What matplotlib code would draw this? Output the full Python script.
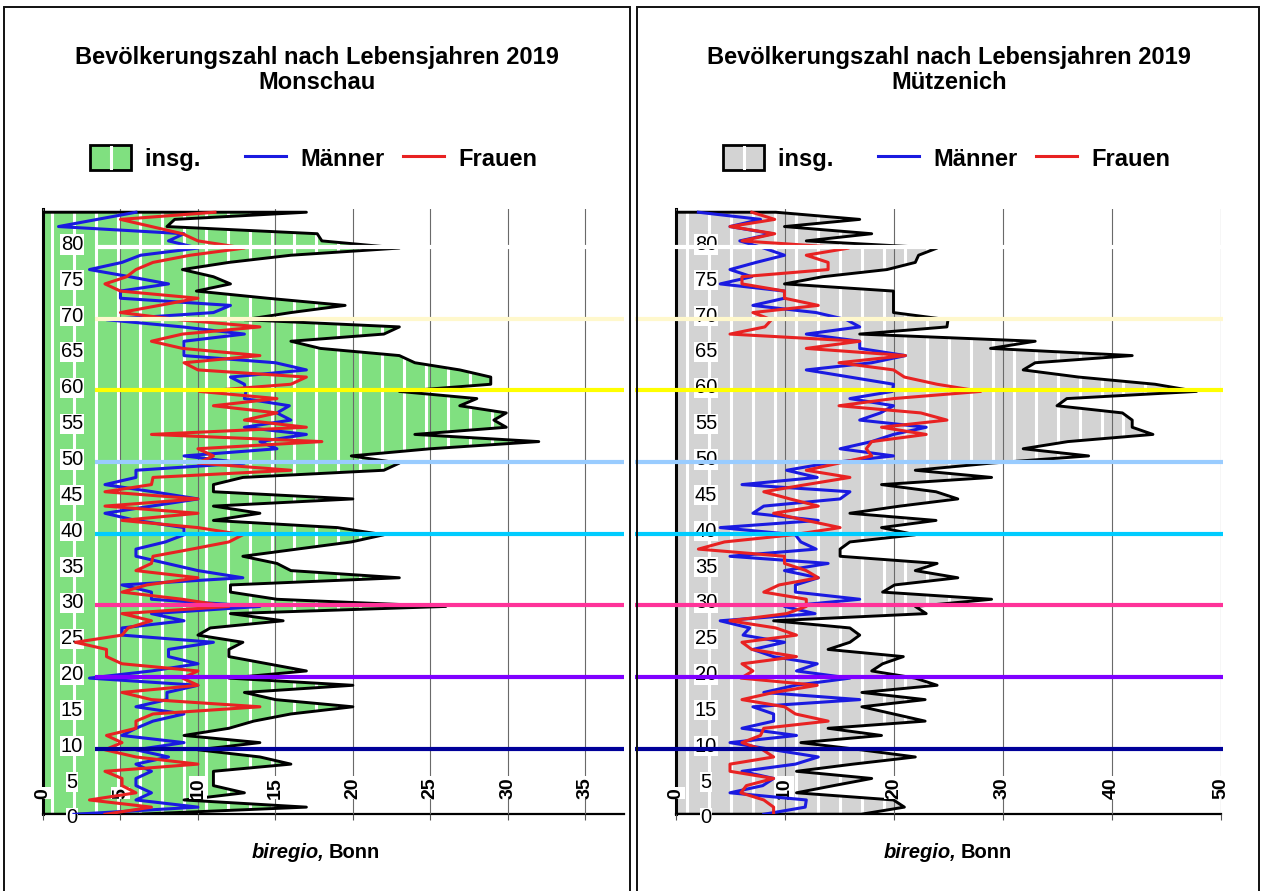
import numpy as np
import matplotlib
matplotlib.use("Agg")
import matplotlib.pyplot as plt
from matplotlib.patches import Rectangle
from matplotlib.lines import Line2D
from matplotlib.legend_handler import HandlerBase
from matplotlib.offsetbox import TextArea, HPacker, AnnotationBbox

plt.rcParams['font.family'] = ['Liberation Sans', 'DejaVu Sans']

# ---------------- data ----------------
ages = np.arange(0, 85)

monschau_total = [6, 17, 9.1, 13, 11, 11, 11, 16, 14, 10,
                  14, 9.1, 12, 13.6, 16, 20, 15, 13, 20, 12,
                  17, 14.5, 12, 12, 12.9, 10, 10.8, 15.5, 12.1, 26,
                  15.1, 12.1, 12.1, 23, 16, 15.1, 12.9, 16.4, 19.9, 22,
                  19, 11, 14, 11, 20, 11, 11, 12.9, 22, 23,
                  19.9, 25, 32, 24, 29.9, 29.1, 29.9, 26.9, 28, 23,
                  28.9, 28.9, 26.9, 24, 23, 17.9, 16, 22, 23, 13,
                  16, 19.5, 14.5, 9.9, 12.1, 11, 9, 12, 16, 23,
                  18, 17.7, 8, 8.5, 17]
monschau_men = [2, 10, 6, 7, 6, 6, 7, 6, 8.1, 6,
                9.1, 5.1, 6, 7.1, 9.1, 6, 8, 8, 10, 3,
                7, 10, 8.1, 8.1, 11, 5.1, 5.1, 9.1, 7, 14,
                7, 7, 5.1, 12.9, 10, 8, 6, 6, 7.9, 9.1,
                9.1, 6, 4, 7, 10, 7.1, 4, 6, 6, 13,
                9.1, 15.1, 14, 17, 13, 16, 15.1, 15.9, 13, 13.1,
                13, 12.1, 17, 15, 9.1, 9.1, 9.1, 13, 9, 4.1,
                11, 12.1, 5, 5, 8.1, 5.6, 3, 5.1, 6.3, 10,
                8.1, 9.1, 1, 3.5, 6]
monschau_women = [4, 7, 3, 6, 5.1, 5.1, 4, 10, 6, 4,
                  5.1, 4.1, 6, 6, 7.1, 14, 7, 5.1, 10, 9,
                  10, 5.1, 4.1, 4.1, 2.1, 5.1, 5.5, 7, 5.1, 12,
                  9, 5.1, 6.7, 10, 6, 7, 7.1, 9.6, 12, 12.9,
                  10, 5.1, 10, 4, 10, 4, 7, 7.1, 16, 10,
                  11, 10, 18, 7, 17, 13, 15.1, 11, 15.1, 10.1,
                  16, 17, 10, 9.1, 14, 9, 7, 9, 14, 8.8,
                  5, 7.5, 10, 5, 4, 5.4, 6, 7.1, 9.5, 13,
                  10, 9, 7, 5, 11.1]

muetzenich_total = [17, 21, 20, 11.1, 14.5, 18, 11.1, 16.3, 22, 17,
                    11.5, 18.9, 14, 22.9, 20, 17.1, 22.9, 17.1, 24, 22,
                    18, 19, 20.9, 14, 16, 16.9, 16, 9, 23, 22,
                    29, 19, 20.1, 25.9, 22, 24, 15.1, 15.1, 16, 22,
                    18.9, 23.9, 16, 20.6, 25.9, 23.9, 18.9, 29, 22, 29,
                    37.9, 31.9, 36, 43.8, 41.9, 41.9, 41, 35, 35.9, 47.8,
                    44, 37, 31.9, 33, 41.9, 28.9, 33, 16.9, 24.9, 25,
                    20, 20, 20, 20, 10, 13.5, 19.4, 22, 22.3, 24,
                    12, 18, 10, 16.9, 9.2]
muetzenich_men = [8.1, 11.9, 12, 5, 8, 9, 6.1, 11, 13.1, 9,
                  5, 11.1, 6.1, 9, 9, 7.1, 16.9, 8.1, 11, 16,
                  11.1, 13, 9, 7.1, 10, 6.2, 6.8, 4.1, 12.8, 10,
                  16.9, 11, 11, 13.1, 10, 14, 5, 12.9, 11.5, 11,
                  4.1, 13.1, 7.1, 8.1, 15.1, 16, 6.1, 13, 10.2, 14,
                  20, 15.1, 18, 20, 23, 16.9, 18.8, 20, 16, 19.9,
                  20, 16, 12, 18, 21.1, 16.9, 16.9, 12, 16.9, 15.7,
                  12.9, 7.1, 10, 10, 4.1, 7, 5, 7.4, 10, 8.1,
                  5.9, 8.9, 5, 7.8, 2.1]
muetzenich_women = [9, 9, 8.1, 6, 6.5, 9, 5, 5, 9, 8,
                    6.1, 7.8, 8.1, 14, 11, 10, 6.1, 9, 13, 6,
                    7.1, 6.1, 11.1, 7, 6.1, 11.1, 9.2, 5, 10.2, 12,
                    12, 8.1, 9.5, 13.1, 12, 10, 10, 2.1, 4.5, 10.8,
                    15.1, 12, 9, 13.1, 10.5, 8.1, 12, 16, 12, 15,
                    18, 17.5, 18, 23, 18.9, 24.9, 22.5, 15, 20, 28,
                    24, 21, 20, 15, 21.1, 12, 16.9, 5, 8.2, 8.8,
                    7.1, 13.1, 10, 10, 6.1, 6.1, 14, 14, 12, 15.9,
                    6.1, 9.1, 5, 9.1, 7]

title_text = "Bevölkerungszahl nach Lebensjahren 2019"
places = ["Monschau", "Mützenich"]
legend_labels = ["insg.", "Männer", "Frauen"]
age_ticks = list(range(0, 85, 5))
monschau_xticks = [0, 5, 10, 15, 20, 25, 30, 35]
muetzenich_xticks = [0, 10, 20, 30, 40, 50]
decade_levels = [10, 20, 30, 40, 50, 60, 70, 80]
decade_colors = ["#000099", "#7F00FF", "#FF3399", "#00CCFF",
                 "#99CCFF", "#FFFF00", "#FFF8CC", "#FFFFFF"]

# ---------------- styles ----------------
W, H = 1262, 891
BLUE = "#1A1AE0"
RED = "#E82222"
GREEN = "#80E080"
GREY = "#D3D3D3"

fig = plt.figure(figsize=(W / 100, H / 100), dpi=100)


class HandlerStriped(HandlerBase):
    def create_artists(self, legend, orig_handle, xdescent, ydescent,
                       width, height, fontsize, trans):
        r = Rectangle((-xdescent, -ydescent), width, height,
                      facecolor=orig_handle.get_facecolor(),
                      edgecolor="black", lw=2, transform=trans)
        l = Line2D([-xdescent + width / 2] * 2,
                   [-ydescent + 1.5, -ydescent + height - 1.5],
                   color="white", lw=2.2, transform=trans)
        return [r, l]


panels = [
    dict(total=monschau_total, men=monschau_men, women=monschau_women,
         place=places[0], xticks=monschau_xticks, xmax=37.5,
         rect=[43 / W, (H - 814.3) / H, 581 / W, 605.3 / H],
         fill=GREEN, stripe0=0.6, stripe_step=1.42,
         ylab_x=0.050, line_x0=0.0895, line_x1=1.0,
         cx=316.5 / W, legx=90 / W, border=(4, 630)),
    dict(total=muetzenich_total, men=muetzenich_men, women=muetzenich_women,
         place=places[1], xticks=muetzenich_xticks, xmax=50,
         rect=[675.5 / W, (H - 814.3) / H, 545 / W, 605.3 / H],
         fill=GREY, stripe0=1.1, stripe_step=2.0,
         ylab_x=0.056, line_x0=-0.0736, line_x1=1.005,
         cx=949 / W, legx=723 / W, border=(637, 1259)),
]

for p in panels:
    ax = fig.add_axes(p["rect"])
    ax.set_xlim(0, p["xmax"])
    ax.set_ylim(0, 84.45)
    total = np.asarray(p["total"], dtype=float)

    poly = ax.fill_betweenx(ages, 0, total, facecolor=p["fill"],
                            edgecolor="none", zorder=1)
    stripes = ax.vlines(np.arange(p["stripe0"], p["xmax"], p["stripe_step"]),
                        0, 85, colors="white", lw=2.2, zorder=1.5)
    stripes.set_clip_path(poly.get_paths()[0], ax.transData)

    ax.set_xticks(p["xticks"])
    ax.set_yticks([])
    ax.grid(axis="x", color="#6A6A6A", lw=0.8)
    ax.set_axisbelow(False)
    ax.tick_params(axis="x", direction="out", length=4, width=0.8,
                   color="#555555", labelbottom=False)
    for s in ("top", "right"):
        ax.spines[s].set_visible(False)
    ax.spines["left"].set_linewidth(2.2)
    ax.spines["bottom"].set_linewidth(1.6)

    ax.fill_betweenx(ages, 0, total, facecolor="none", edgecolor="black",
                     lw=2.1, zorder=3)
    ax.plot(p["men"], ages, color=BLUE, lw=2.2, zorder=4)
    ax.plot(p["women"], ages, color=RED, lw=2.2, zorder=4.1)

    ytrans = ax.get_yaxis_transform()
    for lev, col in zip(decade_levels, decade_colors):
        ax.plot([p["line_x0"], p["line_x1"]], [lev - 0.85, lev - 0.85],
                transform=ytrans, color=col, lw=3.0, zorder=5,
                clip_on=False, solid_capstyle="butt")

    for t in age_ticks:
        ax.text(p["ylab_x"], t - 0.5, str(t), transform=ytrans,
                ha="center", va="center", fontsize=14.5,
                bbox=dict(facecolor="white", edgecolor="none", pad=0.5),
                zorder=3.5, clip_on=False)

    xtrans = ax.get_xaxis_transform()
    for t in p["xticks"]:
        ax.text(t, 0.026, str(t), transform=xtrans, rotation=90,
                rotation_mode="anchor", ha="left", va="center",
                fontsize=14, fontweight="bold",
                bbox=dict(facecolor="white", edgecolor="none", pad=0.6),
                zorder=3.5, clip_on=False)

    fig.text(p["cx"], (H - 70) / H, f"{title_text}\n{p['place']}",
             ha="center", va="center", fontsize=17, fontweight="bold",
             linespacing=1.15)

    handles = [Rectangle((0, 0), 1, 1, facecolor=p["fill"]),
               Line2D([], [], color=BLUE, lw=2.2),
               Line2D([], [], color=RED, lw=2.2)]
    labels = [legend_labels[0] + "    ", legend_labels[1], legend_labels[2]]
    fig.legend(handles, labels, loc="center left",
               bbox_to_anchor=(p["legx"], (H - 158) / H),
               ncol=3, frameon=False, borderpad=0, borderaxespad=0,
               handlelength=1.75, handleheight=1.25, handletextpad=0.6,
               columnspacing=0.75, prop=dict(weight="bold", size=17),
               handler_map={Rectangle: HandlerStriped()})

    src = HPacker(children=[
        TextArea("biregio,", textprops=dict(fontsize=14.5, fontweight="bold",
                                            fontstyle="italic")),
        TextArea("Bonn", textprops=dict(fontsize=14.5, fontweight="bold"))],
        sep=3, align="baseline", pad=0)
    fig.add_artist(AnnotationBbox(src, (p["cx"] - 1 / W, (H - 853) / H),
                                  xycoords="figure fraction", frameon=False,
                                  box_alignment=(0.5, 0.5)))

    x0, x1 = p["border"]
    fig.add_artist(Rectangle((x0 / W, -10 / H), (x1 - x0) / W, (891 + 10 - 7) / H,
                             transform=fig.transFigure, fill=False,
                             edgecolor="#111111", lw=1.4))

fig.savefig("out.png", dpi=100)
